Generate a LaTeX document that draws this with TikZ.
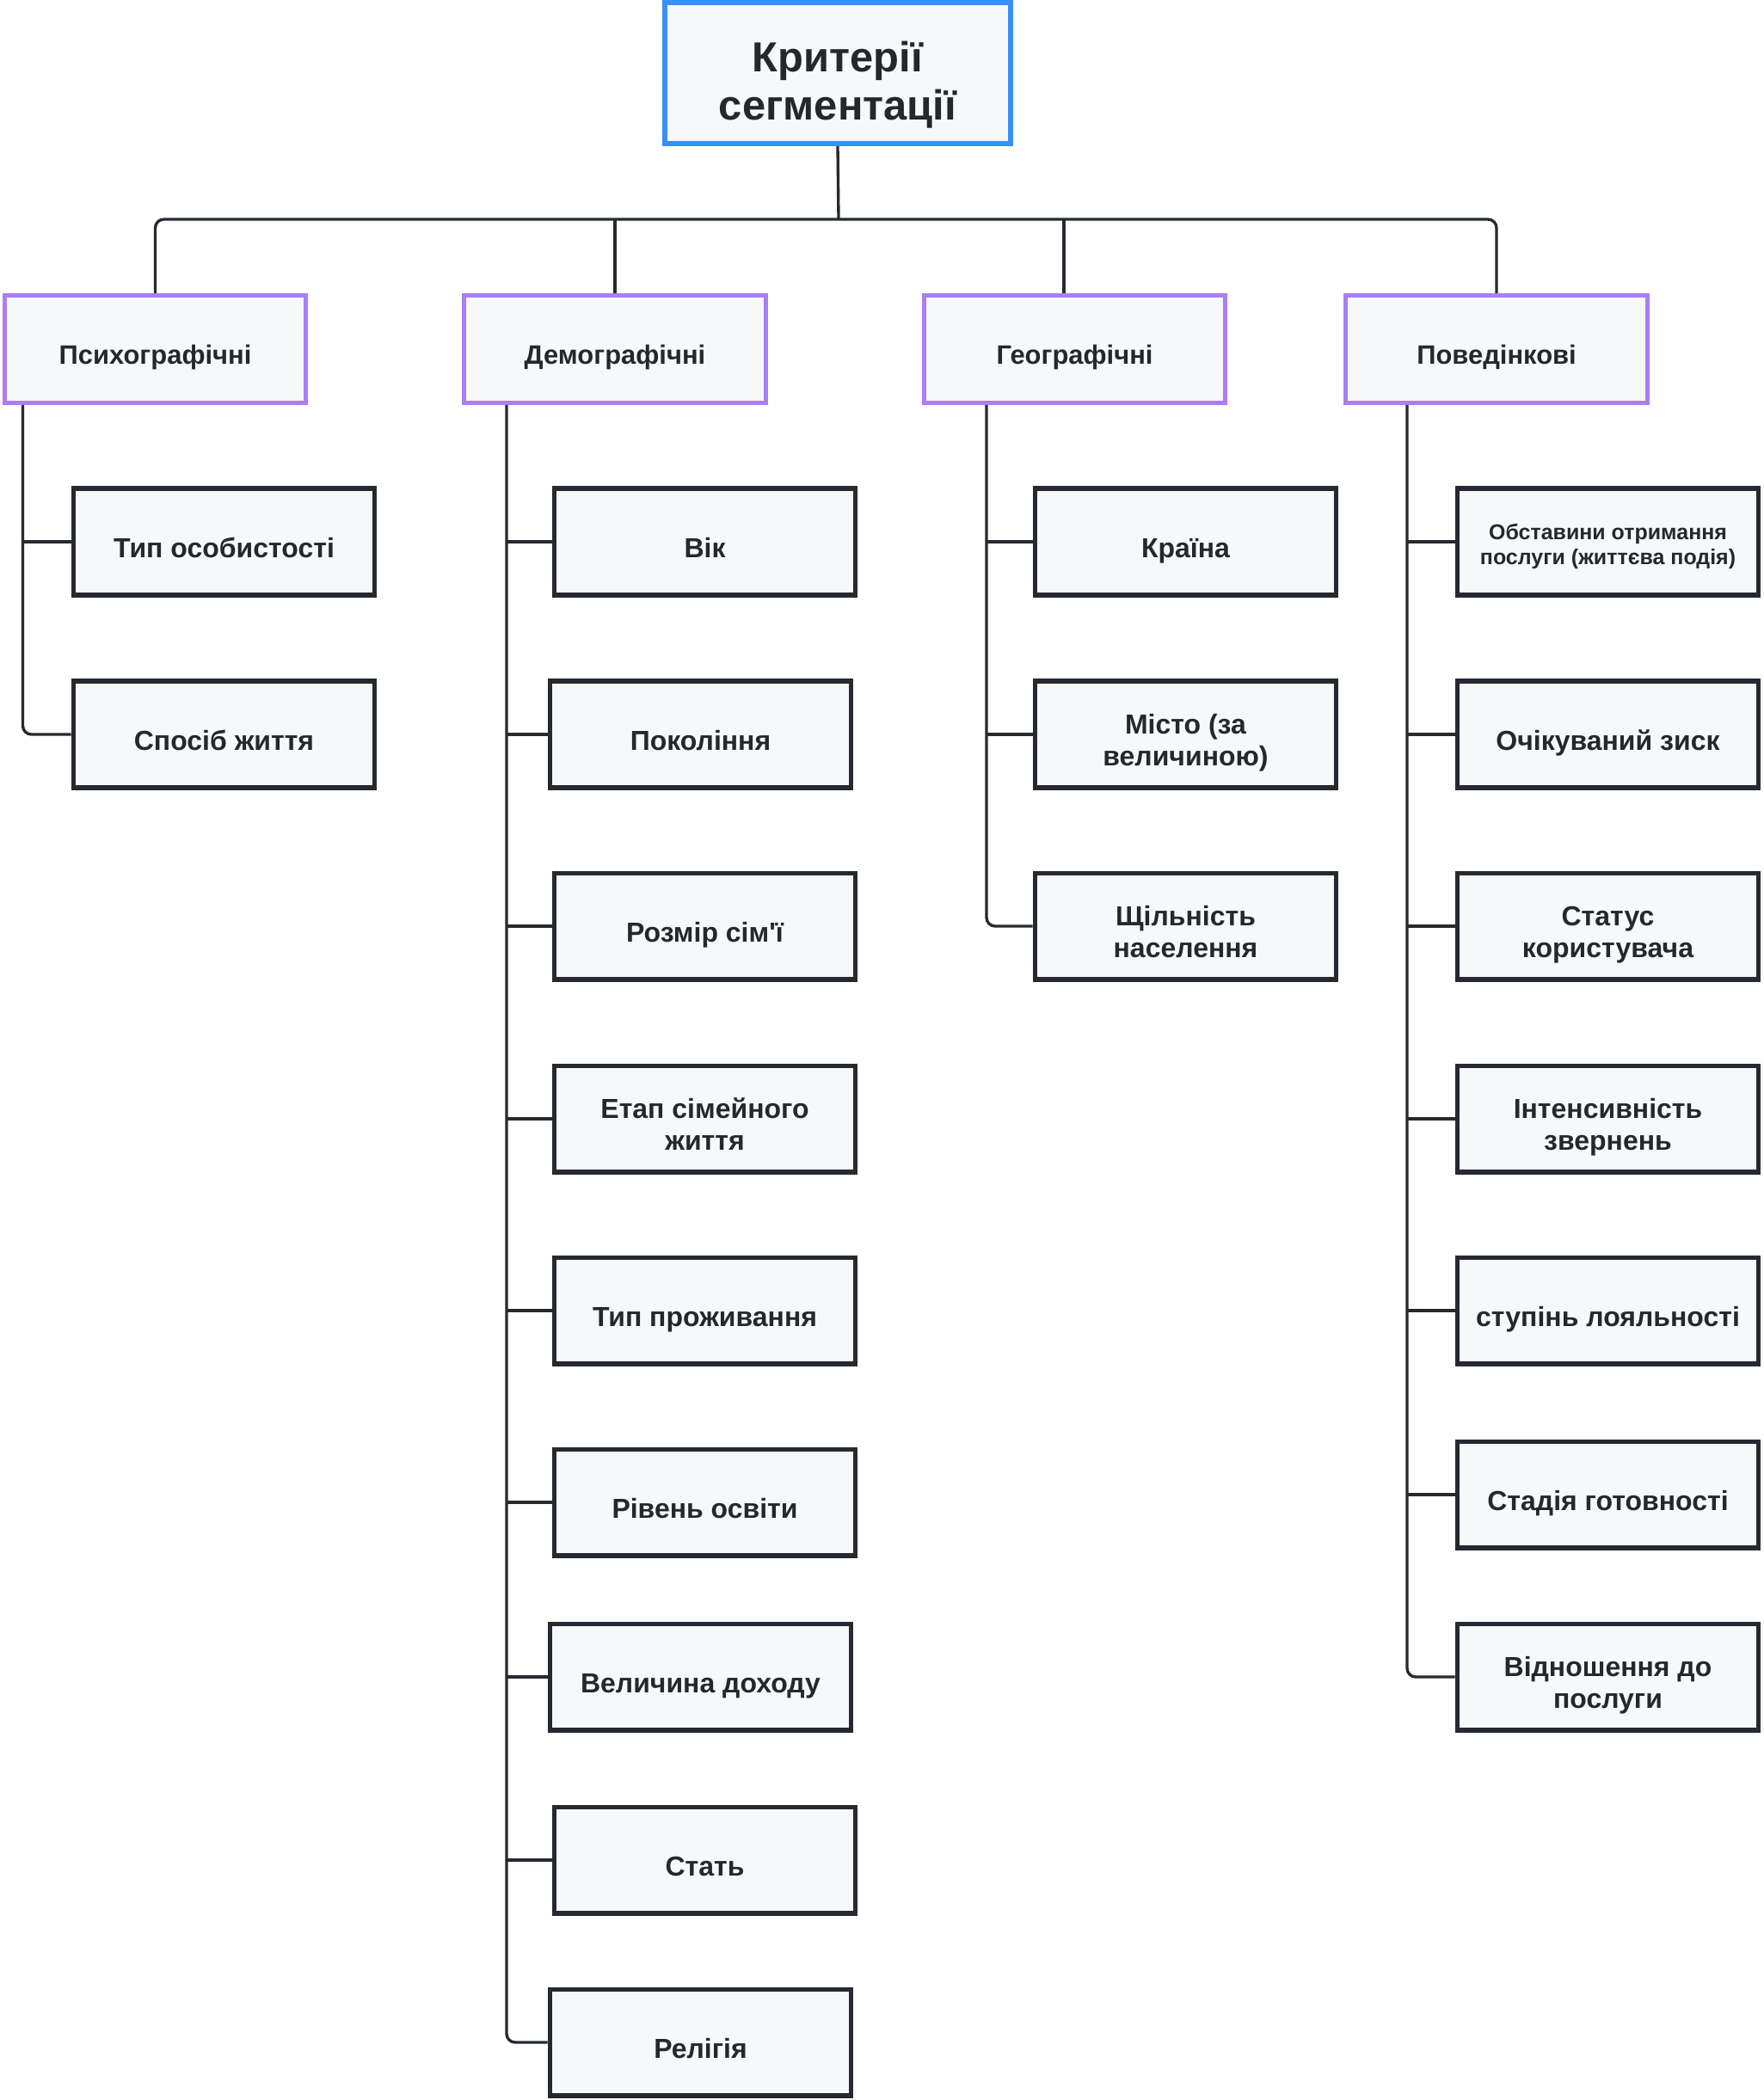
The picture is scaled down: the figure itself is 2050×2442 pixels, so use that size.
\documentclass[tikz,border=0pt]{standalone}
\usepackage{fontspec}
\setmainfont{Liberation Sans}[Ligatures=TeXOff]
\usepackage{tikz}

\definecolor{boxfill}{HTML}{F7F8FA}
\definecolor{inkdark}{HTML}{262A30}
\definecolor{textdark}{HTML}{24282D}
\definecolor{rootblue}{HTML}{3A8FF7}
\definecolor{catpurple}{HTML}{A97EF7}

\tikzset{
  textdrop/.style={execute at begin node={\rule{0pt}{#1}}, execute at end node={\rule[-0.25em]{0pt}{0.25em}}},
  rootbox/.style={draw=rootblue, line width=1.7pt, fill=boxfill, minimum width=4.02cm, minimum height=1.64cm, align=center, text=textdark, font=\fontsize{13.9}{16}\selectfont\bfseries, textdrop=2.5em},
  catbox/.style={draw=catpurple, line width=1.45pt, fill=boxfill, minimum width=3.5cm, minimum height=1.25cm, align=center, text=textdark, font=\fontsize{8.8}{10.6}\selectfont\bfseries, textdrop=1.41em},
  itembox/.style={draw=inkdark, line width=1.55pt, fill=boxfill, minimum width=3.5cm, minimum height=1.235cm, align=center, text=textdark, font=\fontsize{9.1}{10.6}\selectfont\bfseries, textdrop=1.41em},
  twoline/.style={textdrop=2.52em},
  smalltext/.style={font=\fontsize{7.1}{8.4}\selectfont\bfseries, textdrop=2.4em},
  conn/.style={draw=inkdark, line width=0.95pt, rounded corners=0.1cm}
}

\begin{document}
\begin{tikzpicture}[x=0.01cm, y=-0.01cm]
\useasboundingbox (0,0) rectangle (2050,2442);

\node[rootbox] (root) at (974,85) {Критерії\\сегментації};

\node[catbox] (psy) at (180.5,406) {Психографічні};
\node[catbox] (dem) at (715,406) {Демографічні};
\node[catbox] (geo) at (1249.5,406) {Географічні};
\node[catbox] (beh) at (1740,406) {Поведінкові};

\node[itembox] (psyA) at (260.5,630) {Тип особистості};
\node[itembox] (psyB) at (260.5,854) {Спосіб життя};

\node[itembox] (demA) at (819.5,630) {Вік};
\node[itembox] (demB) at (814.5,854) {Покоління};
\node[itembox] (demC) at (819.5,1077) {Розмір сім'ї};
\node[itembox, twoline] (demD) at (819.5,1301) {Етап сімейного\\життя};
\node[itembox] (demE) at (819.5,1524) {Тип проживання};
\node[itembox] (demF) at (819.5,1747) {Рівень освіти};
\node[itembox] (demG) at (814.5,1950) {Величина доходу};
\node[itembox] (demH) at (819.5,2163) {Стать};
\node[itembox] (demI) at (814.5,2375) {Релігія};

\node[itembox] (geoA) at (1378.5,630) {Країна};
\node[itembox, twoline] (geoB) at (1378.5,854) {Місто (за\\величиною)};
\node[itembox, twoline] (geoC) at (1378.5,1077) {Щільність\\населення};

\node[itembox, smalltext] (behA) at (1869.5,630) {Обставини отримання\\послуги (життєва подія)};
\node[itembox] (behB) at (1869.5,854) {Очікуваний зиск};
\node[itembox, twoline] (behC) at (1869.5,1077) {Статус\\користувача};
\node[itembox, twoline] (behD) at (1869.5,1301) {Інтенсивність\\звернень};
\node[itembox] (behE) at (1869.5,1524) {ступінь лояльності};
\node[itembox] (behF) at (1869.5,1738) {Стадія готовності};
\node[itembox, twoline] (behG) at (1869.5,1950) {Відношення до\\послуги};

\coordinate (bus) at (975,255);
\coordinate (geotap) at (1237,255);
\coordinate (psyline) at (26.5,0);
\coordinate (demline) at (589,0);
\coordinate (geoline) at (1147,0);
\coordinate (behline) at (1636,0);

\draw[conn] (root.south) -- (bus);
\draw[conn] (psy.north) |- (bus) -| (beh.north);
\draw[conn] (dem.north |- bus) -- (dem.north);
\draw[conn] (geotap) -- (geotap |- geo.north);

\draw[conn] (psy.south -| psyline) |- (psyB.west);
\draw[conn] (psyA.west -| psyline) -- (psyA.west);

\draw[conn] (dem.south -| demline) |- (demI.west);
\draw[conn] (demA.west -| demline) -- (demA.west);
\draw[conn] (demB.west -| demline) -- (demB.west);
\draw[conn] (demC.west -| demline) -- (demC.west);
\draw[conn] (demD.west -| demline) -- (demD.west);
\draw[conn] (demE.west -| demline) -- (demE.west);
\draw[conn] (demF.west -| demline) -- (demF.west);
\draw[conn] (demG.west -| demline) -- (demG.west);
\draw[conn] (demH.west -| demline) -- (demH.west);

\draw[conn] (geo.south -| geoline) |- (geoC.west);
\draw[conn] (geoA.west -| geoline) -- (geoA.west);
\draw[conn] (geoB.west -| geoline) -- (geoB.west);

\draw[conn] (beh.south -| behline) |- (behG.west);
\draw[conn] (behA.west -| behline) -- (behA.west);
\draw[conn] (behB.west -| behline) -- (behB.west);
\draw[conn] (behC.west -| behline) -- (behC.west);
\draw[conn] (behD.west -| behline) -- (behD.west);
\draw[conn] (behE.west -| behline) -- (behE.west);
\draw[conn] (behF.west -| behline) -- (behF.west);
\end{tikzpicture}
\end{document}
